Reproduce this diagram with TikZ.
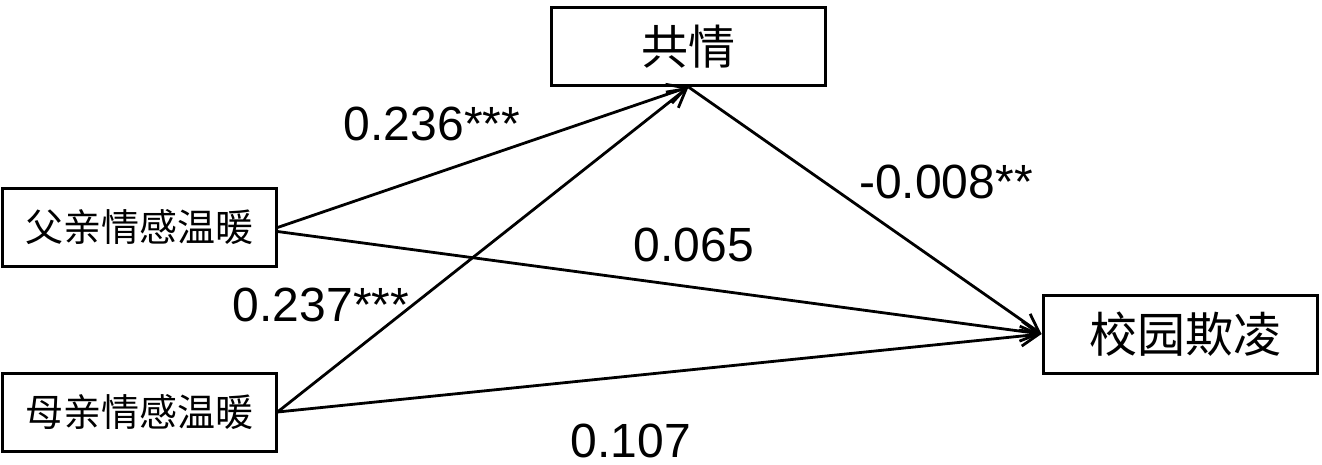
\documentclass[tikz,border=0pt]{standalone}
\usepackage{fontspec}
\setmainfont{Liberation Sans}
\newfontfamily\cjk{Noto Sans CJK SC}
\usetikzlibrary{arrows.meta}
\begin{document}
\begin{tikzpicture}[x=1pt,y=-1pt,
  box/.style={draw,line width=3pt,minimum width=274pt,minimum height=78pt,inner sep=0pt,font=\cjk},
  path/.style={line width=2.8pt,-{Straight Barb[length=18pt,width=20pt,line width=2.8pt]}},
  lab/.style={font=\fontsize{48}{50}\selectfont,inner sep=0pt}]
\useasboundingbox (0,0) rectangle (1322,464);
\node[box,font=\cjk\fontsize{47}{50}\selectfont] (emp) at (688.5,46.5) {共情};
\node[box,font=\cjk\fontsize{38}{40}\selectfont] (fa) at (139,227.5) {父亲情感温暖};
\node[box,font=\cjk\fontsize{38}{40}\selectfont] (mo) at (139,412) {母亲情感温暖};
\node[box,font=\cjk\fontsize{48}{50}\selectfont] (bul) at (1180,334) {\hspace{10pt}校园欺凌};
\draw[path] (fa.east) -- (emp.south);
\draw[path] ([yshift=-4pt]fa.east) -- (bul.west);
\draw[path] (mo.east) -- (emp.south);
\draw[path] (mo.east) -- (bul.west);
\draw[path] (emp.south) -- (bul.west);
\node[lab] (l1) at (432,124) {0.236***};
\node[lab] (l2) at (321,305) {0.237***};
\node[lab] (l3) at (946,182) {-0.008**};
\node[lab] (l4) at (694,245) {0.065};
\node[lab] (l5) at (631,441) {0.107};
\end{tikzpicture}
\end{document}
